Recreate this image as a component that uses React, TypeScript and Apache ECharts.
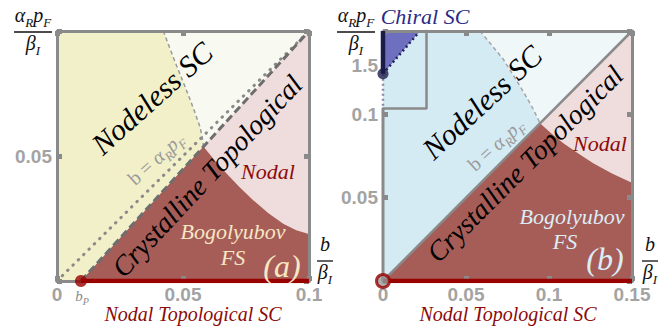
import React, { useEffect, useRef } from 'react';
import * as echarts from 'echarts';

// ---------- data ----------
const bP = 0.0095;
// panel (a)
const aXLabels = ['0', '0.05', '0.1'];
const aYLabels = ['', '0.05', ''];
const aMeet = [0.0581, 0.0538];
const aUpperCurve = [
  [0.0422, 0.1], [0.0448, 0.093], [0.0475, 0.086], [0.0502, 0.0793], [0.0528, 0.0726],
  [0.0548, 0.0672], [0.0567, 0.0618], [0.0576, 0.0578], [0.0581, 0.0538],
];
const aLowerCurve = [
  [0.0581, 0.0538], [0.0625, 0.0484], [0.0673, 0.043], [0.0725, 0.0375], [0.0779, 0.0323],
  [0.0838, 0.0272], [0.0898, 0.0229], [0.095, 0.0203], [0.1, 0.0188],
];
const aDashed = [[bP, 0], [0.1, 0.1]];
const aDotted = [[0, 0], [0.1, 0.1]];
const aNodalTop = [[bP, 0], [0.1, 0]];
// panel (b)
const bXLabels = ['0', '0.05', '0.1', '0.15'];
const bYLabels = ['', '0.05', '0.1', ''];
const bMeet = [0.0946, 0.0946];
const bUpperCurve = [
  [0.0584, 0.15], [0.0655, 0.1415], [0.0725, 0.133], [0.0775, 0.125], [0.0825, 0.117],
  [0.0866, 0.11], [0.0906, 0.103], [0.0946, 0.0946],
];
const bLowerCurve = [
  [0.0946, 0.0946], [0.1015, 0.0885], [0.1087, 0.0827], [0.1177, 0.0765], [0.1267, 0.0706],
  [0.138, 0.0645], [0.15, 0.0589],
];
const bDiag = [[0, 0], [0.15, 0.15]];
const bNodalTop = [[0, 0], [0.15, 0]];
const bLeftFrame = [[0, 0], [0, 0.1035]];
// inset (chiral)
const insetYLabels = ['', '1.5', ''];
const chiralDot = [0, 1.44];
const chiralTop = 1.74;
const chiralEdgeX = 0.0224;
const insetXMax = 0.026;
const chiralDotted = [[0, 1.44], [0, 1.19]];

// ---------- styles ----------
const SERIF = 'Liberation Serif';
const SANS = 'Liberation Sans';
const FRAME = '#8a8a8a';
const TICKC = '#a3a3a3';
const DARKRED = '#8b0a0a';

const rev = (a: number[][]) => a.slice().reverse();

const poly = (verts: number[][], fill: string, xi: number, yi: number, z = 1) => ({
  type: 'custom',
  xAxisIndex: xi,
  yAxisIndex: yi,
  coordinateSystem: 'cartesian2d',
  silent: true,
  z,
  data: [[verts[0][0], verts[0][1]]],
  renderItem: (_p: any, api: any) => ({
    type: 'polygon',
    shape: { points: verts.map((v) => api.coord(v)) },
    style: { fill },
  }),
});

const ln = (data: number[][], color: string, width: number, type: any, xi: number, yi: number, z = 3, cap = 'butt') => ({
  type: 'line',
  xAxisIndex: xi,
  yAxisIndex: yi,
  data,
  symbol: 'none',
  showSymbol: false,
  silent: true,
  z,
  lineStyle: { color, width, type, cap },
});

const mathRich = (size: number, color: string, italic = true) => ({
  m: { fontFamily: SERIF, fontStyle: italic ? 'italic' : 'normal', fontSize: size, fill: color, verticalAlign: 'bottom', padding: [0, 0, Math.round(size * 0.22), 0] },
  g: { fontFamily: SERIF, fontStyle: 'italic', fontSize: size, fill: color, verticalAlign: 'bottom', padding: [0, 0, Math.round(size * 0.22), 0] },
  s: { fontFamily: SERIF, fontStyle: 'italic', fontSize: Math.round(size * 0.65), fill: color, verticalAlign: 'bottom' },
});

const label = (text: string, x: number, y: number, size: number, color: string, rot = 0, italic = true) => ({
  type: 'text',
  x,
  y,
  rotation: (rot * Math.PI) / 180,
  z: 50,
  style: {
    text,
    fontFamily: SERIF,
    fontStyle: italic ? 'italic' : 'normal',
    fontSize: size,
    fill: color,
    align: 'center',
    verticalAlign: 'middle',
  },
});

const richLabel = (text: string, x: number, y: number, size: number, color: string, rot = 0, italic = true) => ({
  type: 'text',
  x,
  y,
  rotation: (rot * Math.PI) / 180,
  z: 50,
  style: { text, fontFamily: SERIF, rich: mathRich(size, color, italic), align: 'center', verticalAlign: 'middle' },
});

const fraction = (num: string, den: string, cx: number, lineY: number, halfW: number) => [
  richLabel(num, cx, lineY - 15, 20, '#111'),
  richLabel(den, cx, lineY + 13, 20, '#111'),
  { type: 'line', z: 50, shape: { x1: cx - halfW, y1: lineY, x2: cx + halfW, y2: lineY }, style: { stroke: '#111', lineWidth: 1.3 } },
];

const mainX = (gi: number, max: number, labels: string[], pos: string, showLabel: boolean) => ({
  type: 'value', gridIndex: gi, min: 0, max, interval: 0.05, position: pos, z: 5,
  axisLine: { show: true, onZero: false, lineStyle: { color: FRAME, width: 3 } },
  axisTick: { show: true, inside: true, length: 5, lineStyle: { color: FRAME, width: 5 } },
  splitLine: { show: false },
  axisLabel: {
    show: showLabel, margin: 4, color: TICKC, fontFamily: SANS, fontWeight: 'bold', fontSize: 19,
    showMinLabel: true, showMaxLabel: true,
    formatter: (_v: number, i: number) => labels[i] ?? '',
  },
});

const mainY = (gi: number, max: number, labels: string[], pos: string, showLabel: boolean, showLine = true) => ({
  type: 'value', gridIndex: gi, min: 0, max, interval: 0.05, position: pos, z: 5,
  axisLine: { show: showLine, onZero: false, lineStyle: { color: FRAME, width: 3 } },
  axisTick: { show: true, inside: true, length: 5, lineStyle: { color: FRAME, width: 5 } },
  splitLine: { show: false },
  axisLabel: {
    show: showLabel, margin: 5, color: TICKC, fontFamily: SANS, fontWeight: 'bold', fontSize: 19,
    formatter: (_v: number, i: number) => labels[i] ?? '',
  },
});

export default function App() {
  const ref = useRef<HTMLDivElement>(null);
  useEffect(() => {
    if (!ref.current) return;
    const chart = echarts.init(ref.current, undefined, { renderer: 'svg' });

    const series: any[] = [
      // panel (a) regions
      poly([[0, 0], [bP, 0], aMeet, ...rev(aUpperCurve), [0, 0.1]], '#f2f0c9', 0, 0),
      poly([...aUpperCurve, [0.1, 0.1]], '#f8f9f1', 0, 0),
      poly([aMeet, [0.1, 0.1], ...rev(aLowerCurve)], '#efdcdc', 0, 0),
      poly([[bP, 0], [0.1, 0], ...rev(aLowerCurve)], '#a65d58', 0, 0),
      ln(aUpperCurve, '#9a9a9a', 1.5, [4, 3], 0, 0),
      ln(aDotted, '#8a8a8a', 3, [0.5, 7], 0, 0, 3, 'round'),
      ln(aDashed, '#6e6e6e', 3, [8, 4], 0, 0),
      ln(aNodalTop, '#990000', 4.5, 'solid', 0, 0, 8),
      {
        type: 'scatter', xAxisIndex: 0, yAxisIndex: 0, data: [[bP, 0]], symbolSize: 12, z: 9, silent: true,
        itemStyle: { color: '#990000' },
      },
      // panel (b) regions
      poly([[0, 0], bMeet, ...rev(bUpperCurve), [0, 0.15]], '#d4ebf4', 2, 2),
      poly([...bUpperCurve, [0.15, 0.15]], '#eff7f9', 2, 2),
      poly([bMeet, [0.15, 0.15], ...rev(bLowerCurve)], '#efdcdc', 2, 2),
      poly([[0, 0], [0.15, 0], ...rev(bLowerCurve)], '#a65d58', 2, 2),
      ln(bUpperCurve, '#a5a5a5', 1.5, [4, 3], 2, 2),
      ln(bDiag, '#8a8a8a', 2.5, 'solid', 2, 2),
      ln(bLeftFrame, FRAME, 3, 'solid', 2, 2, 6),
      ln(bNodalTop, '#990000', 4.5, 'solid', 2, 2, 8),
      {
        type: 'scatter', xAxisIndex: 2, yAxisIndex: 2, data: [[0, 0]], symbolSize: 13, z: 9, silent: true,
        itemStyle: { color: '#9a9a9a', borderColor: '#990000', borderWidth: 3 },
      },
      // inset (chiral)
      poly([chiralDot, [0, chiralTop], [chiralEdgeX, chiralTop]], '#6f6fc0', 4, 4, 2),
      ln([chiralDot, [chiralEdgeX, chiralTop]], '#22225a', 2.5, [2, 3], 4, 4, 3),
      ln(chiralDotted, '#8888aa', 2.5, [2, 3], 4, 4, 7),
      ln([chiralDot, [0, chiralTop]], '#1c1c4a', 4.5, 'solid', 4, 4, 8),
      {
        type: 'scatter', xAxisIndex: 4, yAxisIndex: 4, data: [chiralDot], symbolSize: 11, z: 9, silent: true,
        itemStyle: { color: '#1c1c4a' },
      },
    ];

    const graphic: any[] = [
      // panel (a)
      label('Nodeless SC', 152, 98, 30, '#000', 42),
      label('Crystalline Topological', 207, 176, 28, '#000', 47),
      richLabel('{m|b = }{g|α}{s|R}{g|p}{s|F}', 157, 160, 20, '#9a9a9a', 42, false),
      label('Nodal', 268, 171, 22, DARKRED),
      label('Bogolyubov', 233, 231, 22, '#f7e7c4'),
      label('FS', 233, 257, 22, '#f7e7c4'),
      label('(a)', 282, 266, 32, '#f7e7c4'),
      label('Nodal Topological SC', 193, 314, 20, DARKRED),
      richLabel('{g|b}{s|P}', 82, 297, 15, '#8a8a8a'),
      ...fraction('{g|α}{s|R}{g|p}{s|F}', '{g|β}{s|I}', 33, 32, 19),
      ...fraction('{g|b}', '{g|β}{s|I}', 325, 261, 8),
      // panel (b)
      label('Nodeless SC', 482, 102, 30, '#000', 43),
      label('Crystalline Topological', 525, 164, 28, '#000', 45),
      richLabel('{m|b = }{g|α}{s|R}{g|p}{s|F}', 497, 146, 20, '#9a9a9a', 42, false),
      label('Nodal', 600, 143, 22, DARKRED),
      label('Bogolyubov', 572, 216, 22, '#dbeef7'),
      label('FS', 565, 241, 22, '#dbeef7'),
      label('(b)', 605, 259, 32, '#dbeef7'),
      label('Nodal Topological SC', 508, 314, 20, DARKRED),
      label('Chiral SC', 425, 16, 22, '#2b2b85'),
      ...fraction('{g|α}{s|R}{g|p}{s|F}', '{g|β}{s|I}', 356, 32, 19),
      ...fraction('{g|b}', '{g|β}{s|I}', 650, 261, 8),
    ];

    chart.setOption({
      animation: false,
      grid: [
        { left: 57, top: 31, width: 252, height: 250 },
        { left: 383, top: 31, width: 249, height: 250 },
        { left: 383, top: 31, width: 43, height: 77 },
      ],
      xAxis: [
        mainX(0, 0.1, aXLabels, 'bottom', true),
        mainX(0, 0.1, aXLabels, 'top', false),
        mainX(1, 0.15, bXLabels, 'bottom', true),
        mainX(1, 0.15, bXLabels, 'top', false),
        {
          type: 'value', gridIndex: 2, min: 0, max: insetXMax, position: 'bottom', z: 5,
          axisLine: { show: true, onZero: false, lineStyle: { color: FRAME, width: 2.5 } },
          axisTick: { show: false }, axisLabel: { show: false }, splitLine: { show: false },
        },
      ],
      yAxis: [
        mainY(0, 0.1, aYLabels, 'left', true),
        mainY(0, 0.1, aYLabels, 'right', false),
        mainY(1, 0.15, bYLabels, 'left', true, false),
        mainY(1, 0.15, bYLabels, 'right', false),
        {
          type: 'value', gridIndex: 2, min: 1.2, max: chiralTop, interval: 0.3, position: 'left', z: 5,
          axisLine: { show: false }, axisTick: { show: false }, splitLine: { show: false },
          axisLabel: {
            show: true, margin: 5, color: TICKC, fontFamily: SANS, fontWeight: 'bold', fontSize: 19,
            showMinLabel: true, showMaxLabel: false,
            formatter: (_v: number, i: number) => insetYLabels[i] ?? '',
          },
        },
        {
          type: 'value', gridIndex: 2, min: 1.2, max: chiralTop, position: 'right', z: 5,
          axisLine: { show: true, onZero: false, lineStyle: { color: FRAME, width: 2.5 } },
          axisTick: { show: false }, axisLabel: { show: false }, splitLine: { show: false },
        },
      ],
      series,
      graphic,
    });
    return () => chart.dispose();
  }, []);
  return (
    <div
      ref={ref}
      style={{ position: 'absolute', left: 0, top: 0, width: 671, height: 326, background: '#fff' }}
    />
  );
}
